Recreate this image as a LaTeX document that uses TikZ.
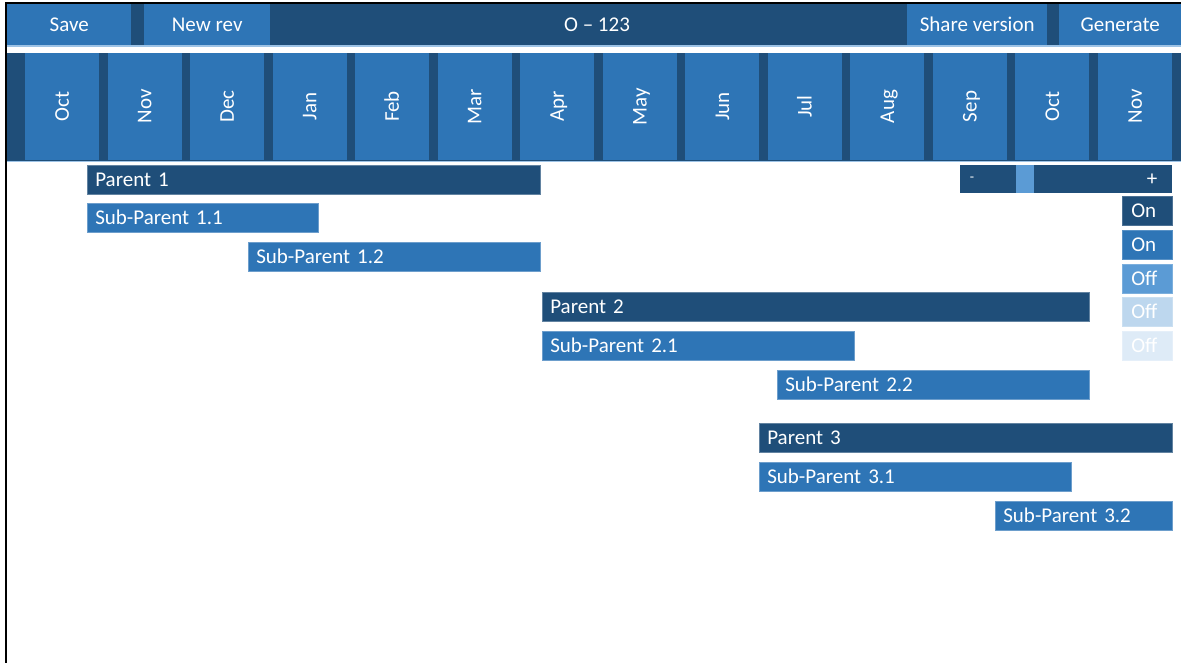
\documentclass[tikz,border=0pt]{standalone}
\usepackage{fontspec}
\setmainfont{Carlito}
\definecolor{dk}{HTML}{1F4E79}
\definecolor{md}{HTML}{2E75B6}
\definecolor{lt}{HTML}{5B9BD5}
\definecolor{pl}{HTML}{BDD7EE}
\definecolor{pp}{HTML}{DEEBF7}
\definecolor{ln}{HTML}{9DC3E6}
\tikzset{
  every node/.style={font=\fontsize{21}{25}\selectfont, text=white, text height=13.5pt, text depth=0pt},
  btn/.style={fill=md, inner sep=0pt, minimum height=41pt, anchor=north west},
  mcell/.style={fill=md, inner sep=0pt, rotate=90, minimum width=107pt, minimum height=74pt},
  gbar/.style={anchor=north west, inner xsep=8pt, inner ysep=0pt, minimum height=29pt, text width=#1, align=left},
  pbar/.style={gbar=#1, fill=dk, draw=dk!70!white, line width=0.6pt},
  sbar/.style={gbar=#1, fill=md, draw=md!70!white, line width=0.6pt},
  tog/.style={anchor=north west, inner xsep=9pt, inner ysep=0pt, minimum height=29pt, text width=32pt, align=left, fill=#1, draw=#1!80!white, line width=0.6pt}
}
\begin{document}
\begin{tikzpicture}[x=1pt,y=-1pt]
\useasboundingbox (0,0) rectangle (1181,663);
\fill[white] (0,0) rectangle (1181,663);
% top bar
\fill[dk] (7,4) rectangle (1181,45);
\draw[ln, line width=1.5pt] (7,46) -- (1181,46);
\node[btn, minimum width=124pt] (save) at (7,4) {Save};
\node[btn, minimum width=126pt] (newrev) at (144,4) {New rev};
\node (title) at (597,24.5) {O – 123};
\node[btn, minimum width=140pt] (share) at (907,4) {Share version};
\node[btn, minimum width=122pt] (gen) at (1059,4) {Generate};
% month band
\fill[dk] (7,53) rectangle (1181,161);
\draw[ln, line width=1pt] (7,161.5) -- (1181,161.5);
\foreach \m [count=\i from 0] in {Oct,Nov,Dec,Jan,Feb,Mar,Apr,May,Jun,Jul,Aug,Sep,Oct,Nov}{
  \node[mcell] (m\i) at ({62+82.54*\i},106.5) {\m};
}
% frame
\draw[black, line width=2pt] (6,663) -- (6,3) -- (1181,3);
% bars
\node[pbar=437pt] (p1) at (87,165) {Parent 1};
\node[sbar=215pt] (s11) at (87,203) {Sub-Parent 1.1};
\node[sbar=276pt] (s12) at (248,242) {Sub-Parent 1.2};
\node[pbar=531pt] (p2) at (542,292) {Parent 2};
\node[sbar=296pt] (s21) at (542,331) {Sub-Parent 2.1};
\node[sbar=296pt] (s22) at (777,370) {Sub-Parent 2.2};
\node[pbar=397pt] (p3) at (759,423) {Parent 3};
\node[sbar=296pt] (s31) at (759,462) {Sub-Parent 3.1};
\node[sbar=161pt] (s32) at (995,501) {Sub-Parent 3.2};
% zoom control
\node[anchor=north west, fill=dk, inner sep=0pt, minimum width=212pt, minimum height=28pt] (zoom) at (960,165) {};
\node[anchor=north west, fill=lt, inner sep=0pt, minimum width=18pt, minimum height=28pt] (knob) at (1016,165) {};
\node[font=\fontsize{14}{16}\selectfont, text height=6pt] (minus) at (972,179) {-};
\node (plus) at (1152,179) {+};
% toggles
\node[tog=dk] (t1) at (1122,196) {On};
\node[tog=md] (t2) at (1122,230) {On};
\node[tog=lt] (t3) at (1122,264) {Off};
\node[tog=pl] (t4) at (1122,297) {Off};
\node[tog=pp] (t5) at (1122,331) {Off};
\end{tikzpicture}
\end{document}
